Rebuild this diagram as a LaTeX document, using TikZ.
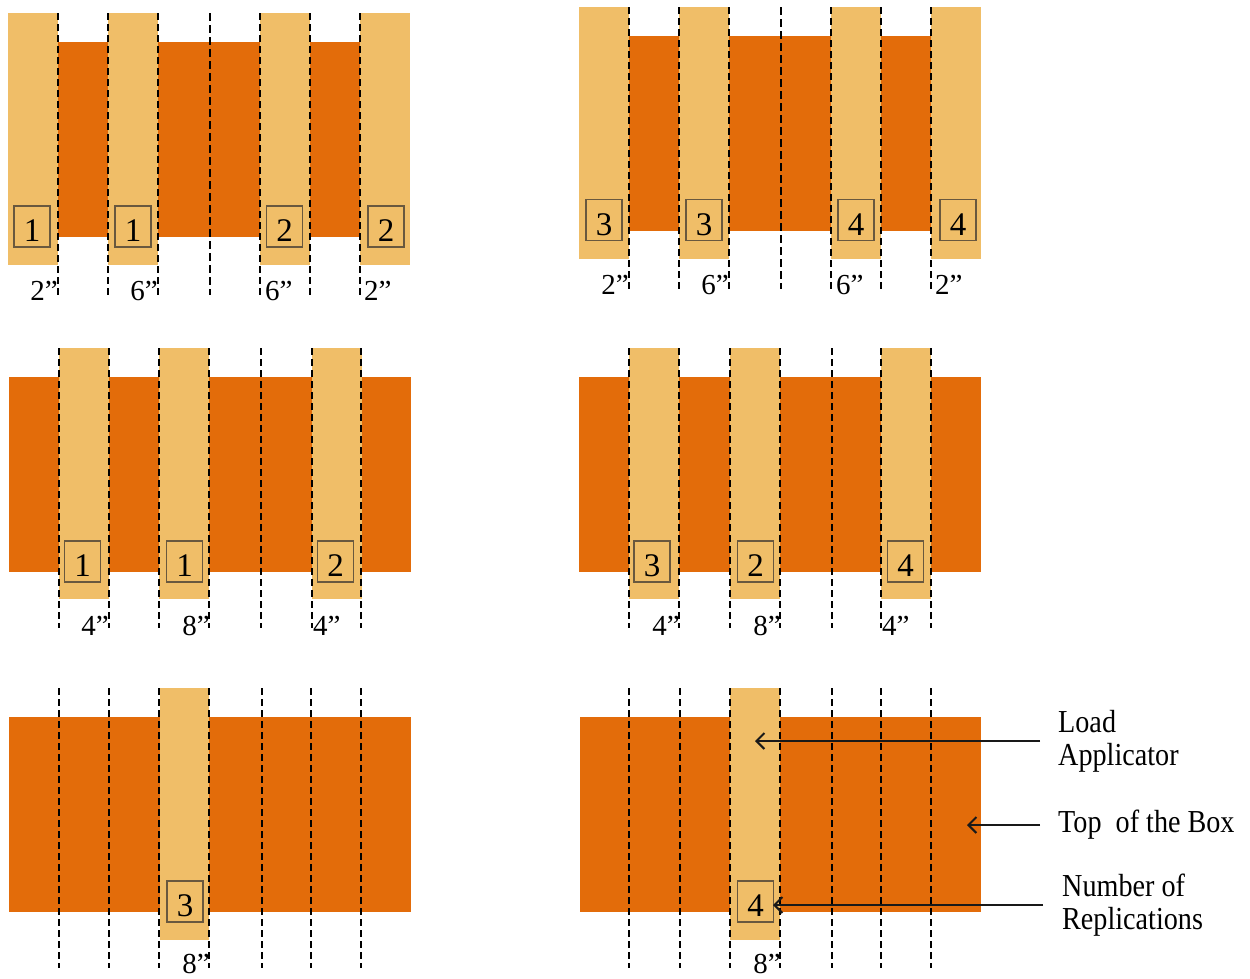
\documentclass[tikz,border=0pt]{standalone}
\usepackage{fontspec}
\usepackage{graphicx}
\setmainfont{Liberation Serif}
\usetikzlibrary{arrows.meta}
\definecolor{lightstrip}{RGB}{240,190,104}
\definecolor{darktop}{RGB}{227,108,10}
\definecolor{boxline}{RGB}{105,88,62}
\newcommand\sqz[1]{\scalebox{0.88}[1]{#1}}
\begin{document}
\begin{tikzpicture}[x=1pt,y=-1pt,
  strip/.style={fill=lightstrip,draw=none},
  topbox/.style={fill=darktop,draw=none},
  guide/.style={draw=black,line width=1.6pt,dash pattern=on 7pt off 4pt},
  guidebold/.style={draw=black,line width=2.4pt,dash pattern=on 8pt off 4pt},
  numbox/.style={draw=boxline,line width=1.1pt,minimum width=36pt,minimum height=41pt,
    inner sep=0pt,text height=30pt,text depth=0pt,font=\fontsize{33}{33}\selectfont},
  dim/.style={inner sep=0pt,font=\fontsize{29}{29}\selectfont},
  side/.style={inner sep=0pt,anchor=west,align=left,font=\fontsize{32}{33}\selectfont},
  pointer/.style={draw=black!90,line width=2pt,-{Straight Barb[length=8pt,width=16pt,line width=2pt]}}
]
\useasboundingbox (0,0) rectangle (1250,978);

% ---------- Panel 1 ----------
\fill[topbox] (57,42) rectangle (360,237);
\foreach \x in {8,108,260,360} \fill[strip] (\x,13) rectangle ++(50,252);
\foreach \x in {58,108,158,260,310,360} \draw[guide] (\x,13) -- (\x,295);
\draw[guidebold] (210,13) -- (210,295);
\node[numbox] (pa1) at (32,226.5) {1};
\node[numbox] (pa2) at (133,226.5) {1};
\node[numbox] (pa3) at (284.5,226.5) {2};
\node[numbox] (pa4) at (386,226.5) {2};
\node[dim,anchor=base east] (la1) at (58,300) {2”};
\node[dim,anchor=base east] (la2) at (158,300) {6”};
\node[dim,anchor=base west] (la3) at (265,300) {6”};
\node[dim,anchor=base west] (la4) at (364,300) {2”};

% ---------- Panel 2 ----------
\begin{scope}[shift={(571,-6)}]
\fill[topbox] (57,42) rectangle (360,237);
\foreach \x in {8,108,260,360} \fill[strip] (\x,13) rectangle ++(50,252);
\foreach \x in {58,108,158,260,310,360} \draw[guide] (\x,13) -- (\x,295);
\draw[guidebold] (210,13) -- (210,295);
\node[numbox] (pb1) at (33,226) {3};
\node[numbox] (pb2) at (133,226) {3};
\node[numbox] (pb3) at (285,226) {4};
\node[numbox] (pb4) at (387,226) {4};
\node[dim,anchor=base east] (lb1) at (58,300) {2”};
\node[dim,anchor=base east] (lb2) at (158,300) {6”};
\node[dim,anchor=base west] (lb3) at (265,300) {6”};
\node[dim,anchor=base west] (lb4) at (364,300) {2”};
\end{scope}

% ---------- Panel 3 ----------
\fill[topbox] (9,377) rectangle (411,572);
\foreach \x in {59,159,312} \fill[strip] (\x,348) rectangle ++(50,251);
\foreach \x in {59,109,159,209,261,312,361} \draw[guide] (\x,348) -- (\x,628);
\node[numbox] (pc1) at (82.5,561.5) {1};
\node[numbox] (pc2) at (184.5,561.5) {1};
\node[numbox] (pc3) at (335.5,561.5) {2};
\node[dim,anchor=base east] (lc1) at (109,635) {4”};
\node[dim,anchor=base east] (lc2) at (210,635) {8”};
\node[dim,anchor=base west] (lc3) at (313,635) {4”};

% ---------- Panel 4 ----------
\begin{scope}[shift={(570,0)}]
\fill[topbox] (9,377) rectangle (411,572);
\foreach \x in {59,160,311} \fill[strip] (\x,348) rectangle ++(50,251);
\foreach \x in {59,109,160,210,262,311,361} \draw[guide] (\x,348) -- (\x,628);
\node[numbox] (pd1) at (82,561.5) {3};
\node[numbox] (pd2) at (185.5,561.5) {2};
\node[numbox] (pd3) at (335.5,561.5) {4};
\node[dim,anchor=base east] (ld1) at (110,635) {4”};
\node[dim,anchor=base east] (ld2) at (211,635) {8”};
\node[dim,anchor=base west] (ld3) at (312,635) {4”};
\end{scope}

% ---------- Panel 5 ----------
\fill[topbox] (9,717) rectangle (411,912);
\fill[strip] (160,688) rectangle (209,940);
\foreach \x in {59,109,159,209,262,311,361} \draw[guide] (\x,688) -- (\x,968);
\node[numbox] (pe1) at (185,901.5) {3};
\node[dim,anchor=base east] (le1) at (210,973) {8”};

% ---------- Panel 6 ----------
\begin{scope}[shift={(570,0)}]
\fill[topbox] (10,717) rectangle (411,912);
\fill[strip] (160,688) rectangle (210,940);
\foreach \x in {59,110,160,210,262,311,361} \draw[guide] (\x,688) -- (\x,968);
\node[numbox] (pf1) at (185.5,901.5) {4};
\node[dim,anchor=base east] (lf1) at (211,973) {8”};
\end{scope}

% ---------- Legend ----------
\node[side] (load) at (1058,741) {\sqz{Load}\\\sqz{Applicator}};
\node[side] (topl) at (1058,825) {\sqz{Top\ \ of the Box}};
\node[side] (reps) at (1062,905) {\sqz{Number of}\\\sqz{Replications}};
\coordinate (loadtip) at (755,741);
\coordinate (toptip) at (967,825);
\coordinate (repstip) at (773,905);
\draw[pointer] ([xshift=-18pt]load.west) -- (loadtip);
\draw[pointer] ([xshift=-18pt]topl.west) -- (toptip);
\draw[pointer] ([xshift=-19pt]reps.west) -- (repstip);
\end{tikzpicture}
\end{document}
